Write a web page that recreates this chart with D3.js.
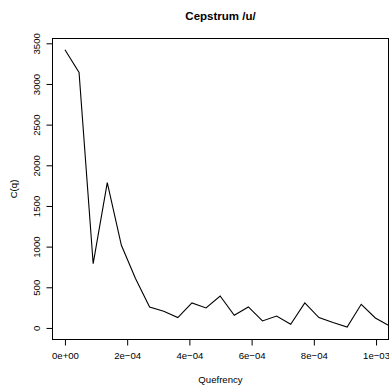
<!DOCTYPE html>
<html>
<head>
  <meta charset="utf-8">
  <script src="https://cdn.jsdelivr.net/npm/d3@7"></script>
  <style>
    body { margin: 0; background: #fff; }
    svg text { font-family: "Liberation Sans", Arial, Helvetica, sans-serif; fill: #000; }
  </style>
</head>
<body>
<div id="chart"></div>
<script>
  // cepstrum samples, one every 1/22050 s
  var sampleRate = 22050;
  var cepstrum = [3420, 3141, 791, 1786, 1016, 607, 258, 205, 128, 307, 246, 393,
                  156, 258, 86, 147, 45, 307, 128, 66, 10, 291, 123, 25];
  var xTicks = [0, 2e-4, 4e-4, 6e-4, 8e-4, 1e-3];
  var xTickLabels = ["0e+00", "2e\u221204", "4e\u221204", "6e\u221204", "8e\u221204", "1e\u221203"];
  var yTicks = [0, 500, 1000, 1500, 2000, 2500, 3000, 3500];
  var xLim = [0, 1e-3];
  var yLim = [-5, 3422];   // range of the full series (incl. samples past xlim)

  var W = 389, H = 385;
  var margin = { left: 52.5, right: 0.5, top: 38.5, bottom: 45.5 };

  // R style 4% padding on both axes
  function pad(r) { var d = (r[1] - r[0]) * 0.04; return [r[0] - d, r[1] + d]; }

  var x = d3.scaleLinear().domain(pad(xLim)).range([margin.left, W - margin.right]);
  var y = d3.scaleLinear().domain(pad(yLim)).range([H - margin.bottom, margin.top]);

  var svg = d3.select("#chart").append("svg")
    .attr("width", W).attr("height", H);

  svg.append("clipPath").attr("id", "plotclip")
    .append("rect")
    .attr("x", margin.left).attr("y", margin.top)
    .attr("width", W - margin.right - margin.left)
    .attr("height", H - margin.bottom - margin.top);

  var pts = cepstrum.map(function(v, i) { return [i / sampleRate, v]; });

  svg.append("path")
    .datum(pts)
    .attr("clip-path", "url(#plotclip)")
    .attr("fill", "none")
    .attr("stroke", "#000")
    .attr("stroke-width", 1.1)
    .attr("d", d3.line().x(function(d) { return x(d[0]); }).y(function(d) { return y(d[1]); }));

  // box
  svg.append("rect")
    .attr("x", margin.left).attr("y", margin.top)
    .attr("width", W - margin.right - margin.left)
    .attr("height", H - margin.bottom - margin.top)
    .attr("fill", "none").attr("stroke", "#000").attr("stroke-width", 1);

  // x axis
  var xAxis = d3.axisBottom(x).tickValues(xTicks)
    .tickFormat(function(d, i) { return xTickLabels[i]; })
    .tickSize(6).tickPadding(7);
  var gx = svg.append("g")
    .attr("transform", "translate(0," + (H - margin.bottom) + ")")
    .call(xAxis);
  gx.select(".domain").remove();
  gx.selectAll(".tick line").attr("stroke", "#000");
  gx.selectAll(".tick text").style("font-size", "9.6px").attr("fill", "#000");

  // y axis, labels parallel to axis like R's las=0
  var yAxis = d3.axisLeft(y).tickValues(yTicks).tickSize(6).tickFormat(d3.format("d"));
  var gy = svg.append("g")
    .attr("transform", "translate(" + margin.left + ",0)")
    .call(yAxis);
  gy.select(".domain").remove();
  gy.selectAll(".tick line").attr("stroke", "#000");
  gy.selectAll(".tick text")
    .attr("x", null).attr("dy", null)
    .attr("text-anchor", "middle")
    .attr("transform", "translate(-12.5,0) rotate(-90)")
    .style("font-size", "9.6px").attr("fill", "#000");

  svg.append("text")
    .attr("x", (margin.left + W - margin.right) / 2).attr("y", 19.5)
    .attr("text-anchor", "middle")
    .style("font-size", "11.5px").style("font-weight", "bold")
    .text("Cepstrum /u/");

  svg.append("text")
    .attr("x", (margin.left + W - margin.right) / 2).attr("y", 383)
    .attr("text-anchor", "middle")
    .style("font-size", "9.6px")
    .text("Quefrency");

  svg.append("text")
    .attr("transform", "translate(16.5," + ((margin.top + H - margin.bottom) / 2) + ") rotate(-90)")
    .attr("text-anchor", "middle")
    .style("font-size", "9.6px")
    .text("C(q)");
</script>
</body>
</html>
